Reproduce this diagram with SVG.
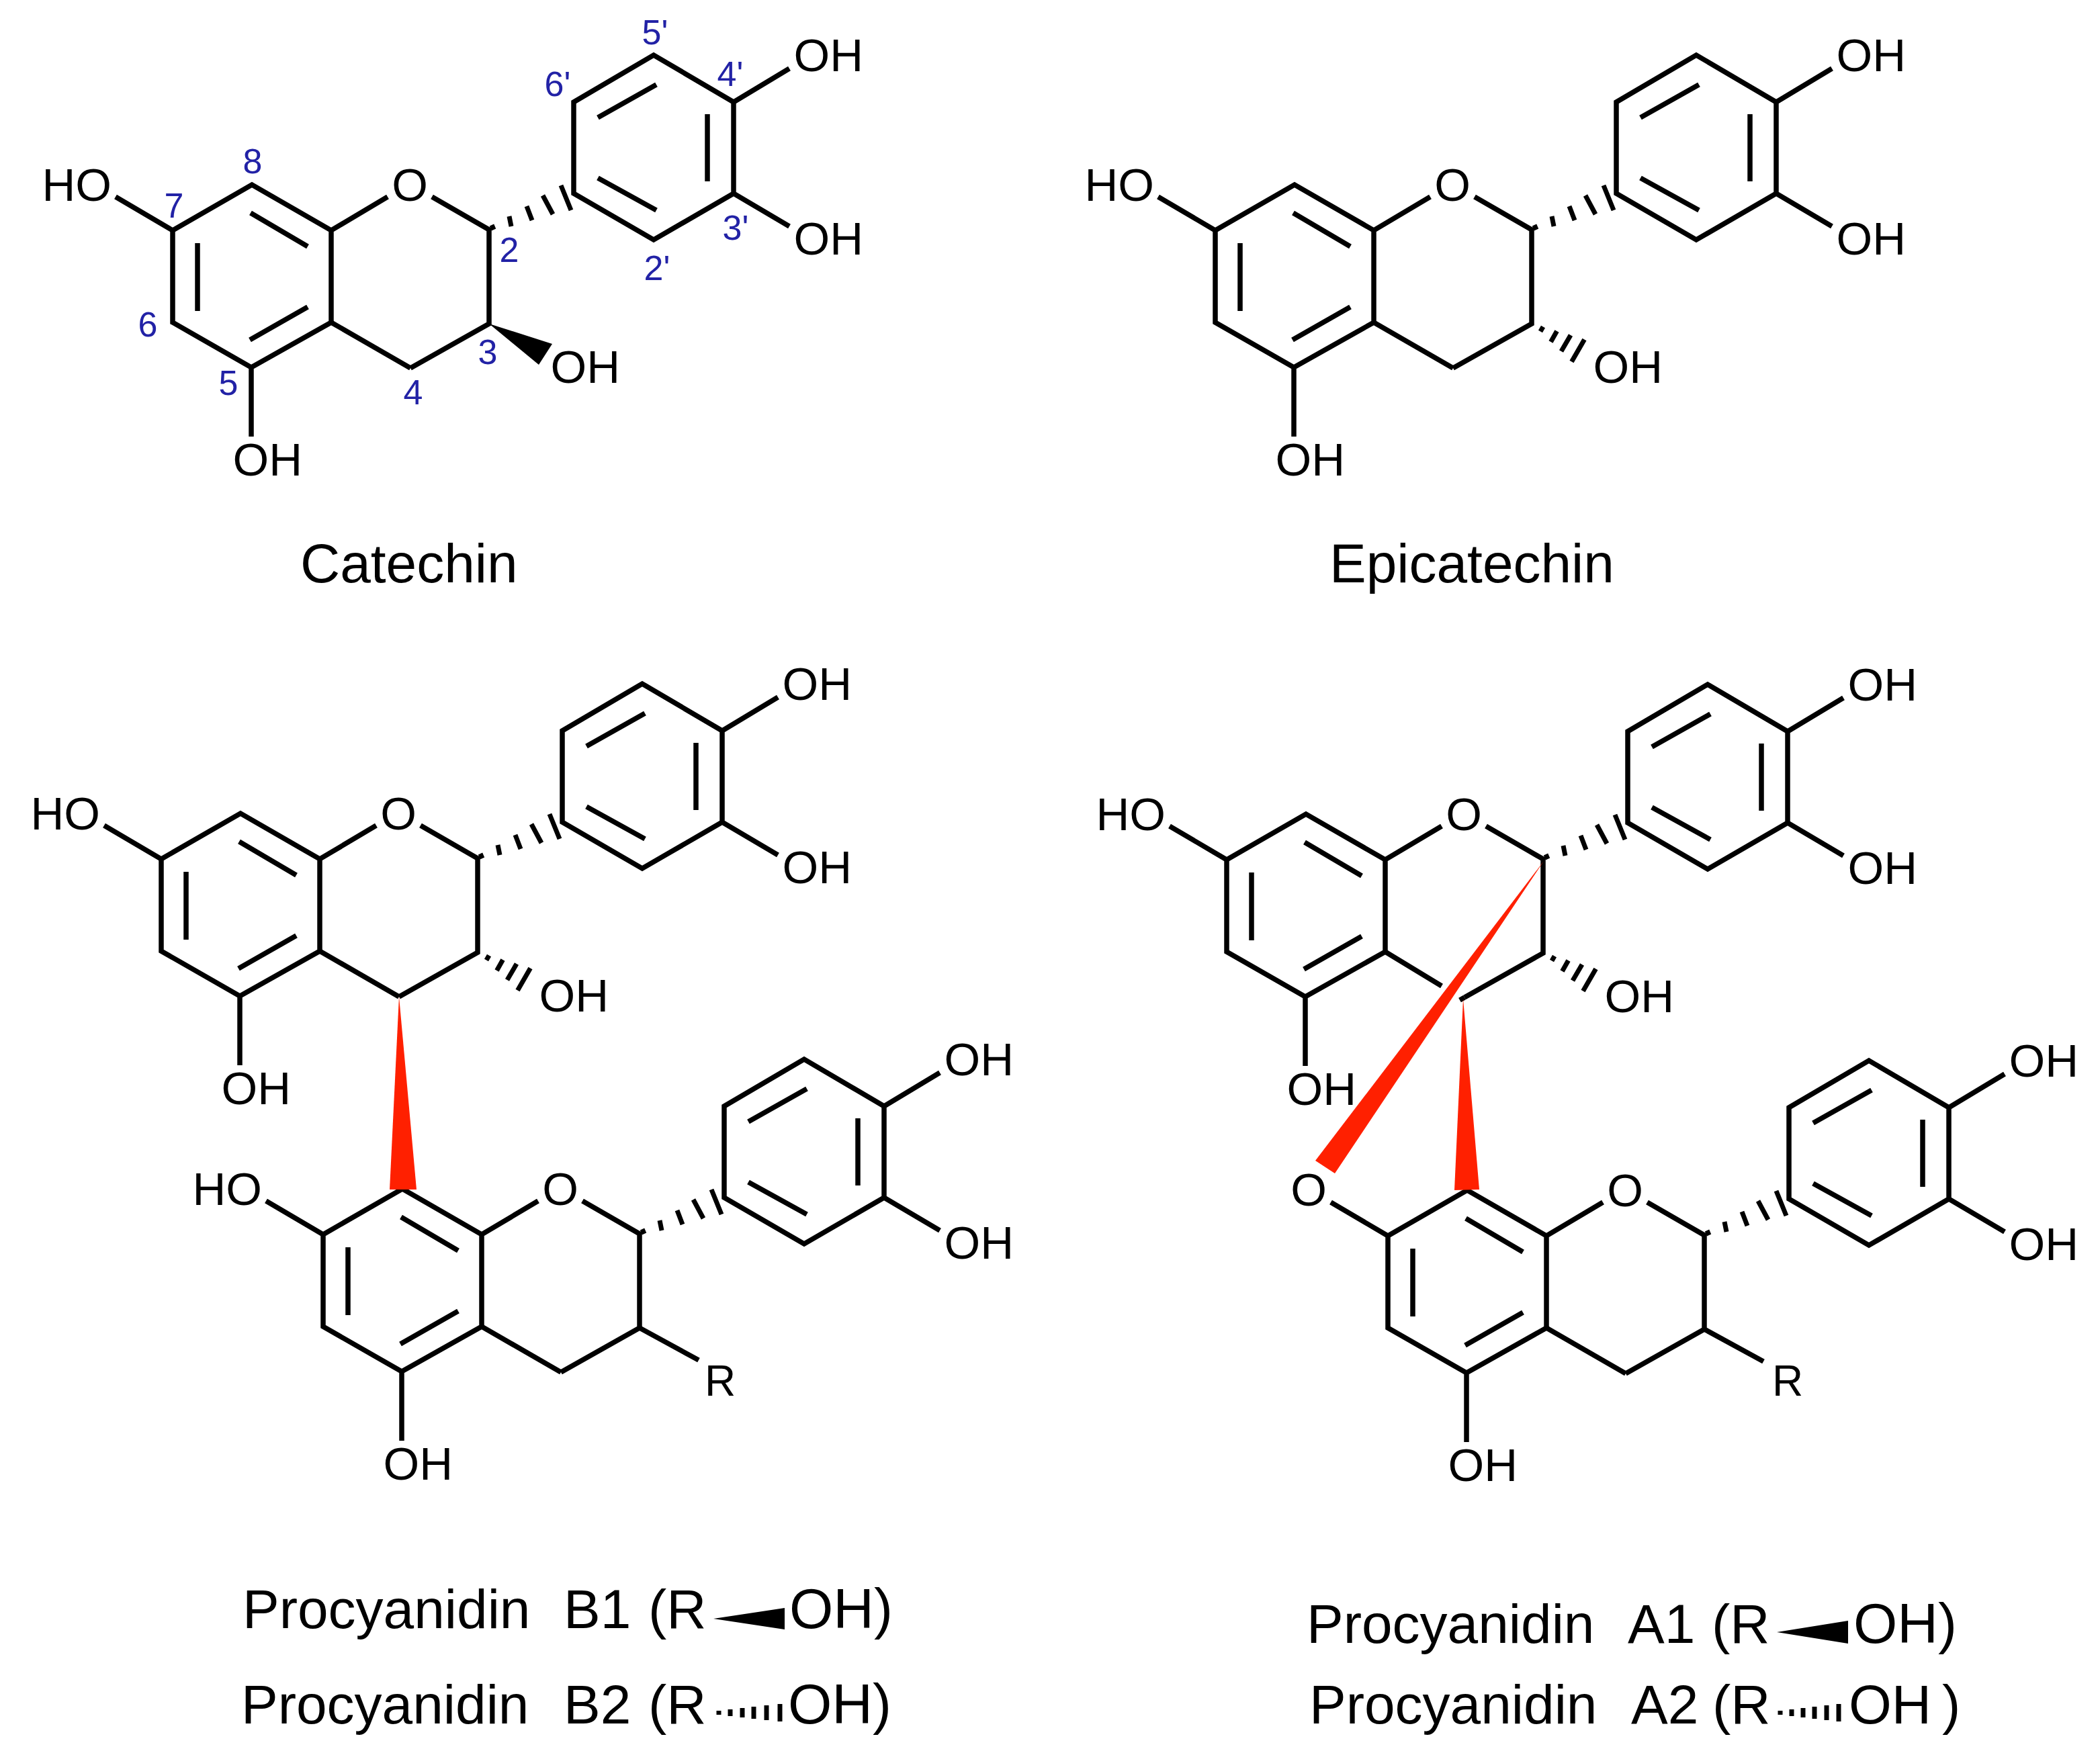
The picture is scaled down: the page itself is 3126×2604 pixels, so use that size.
<svg xmlns="http://www.w3.org/2000/svg" width="3126" height="2604" viewBox="0 0 3126 2604">
<style>
text{font-family:"Liberation Sans",Arial,sans-serif;fill:#000}
.a{font-size:69px}
.m{text-anchor:middle}
.r{font-size:64px}
.n{font-size:52px;fill:#2222a6;text-anchor:middle}
.t{font-size:82px}
.u{font-size:84px}
.b{fill:none;stroke:#000;stroke-width:7.5;stroke-linejoin:miter;stroke-linecap:butt}
.h{fill:none;stroke:#000;stroke-width:7}
.k{fill:#000;stroke:none}
.w{fill:#ff2000;stroke:none}
</style>
<defs>
<path id="scaffold" class="b" d="M257 343L375 275L493 343L577 293M643 293L728 342V482L611 548M493 343V480L374 547L257 480V343M373 317L458 367M294 362V463M372 506L458 457M854 288L973 357L1092 288V152L973 82L854 152ZM890 175L977 126M1053 170V270M890 265L977 313M1092 152L1175 102M1092 288L1175 337M257 343L172 293M374 547V650"/>
<path id="c4bond" class="b" d="M493 480L611 548"/>
<path id="hash2" class="h" d="M732 335L735 342M758 322L761 337M784 307L792 328M808 291L823 319M835 276L850 313"/>
<path id="hash3" class="h" d="M741 493.500L745 486.500M756.500 509L765.500 493M772 523L786 499M787.500 538.500L806.500 505.500"/>
<path id="rbond" class="b" d="M728 482L816 530"/>
</defs>

<g id="connectors">
<g id="catechin-bonds"><use href="#scaffold"/><use href="#c4bond"/><use href="#hash2"/><polygon class="k" points="728,482 822,512 802,543"/></g>
<g id="epicatechin-bonds" transform="translate(1552,0)"><use href="#scaffold"/><use href="#c4bond"/><use href="#hash2"/><use href="#hash3"/></g>
<g id="b-upper-bonds" transform="translate(-17,936)"><use href="#scaffold"/><use href="#c4bond"/><use href="#hash2"/><use href="#hash3"/></g>
<g id="b-lower-bonds" transform="translate(224,1495)"><use href="#scaffold"/><use href="#c4bond"/><use href="#hash2"/><use href="#rbond"/></g>
<g id="a-upper-bonds" transform="translate(1569,937)"><use href="#scaffold"/><path class="b" d="M493 480L577 531M611 548L604 552"/><use href="#hash2"/><use href="#hash3"/></g>
<g id="a-lower-bonds" transform="translate(1809,1497)"><use href="#scaffold"/><use href="#c4bond"/><use href="#hash2"/><use href="#rbond"/></g>
<polygon id="b-link" class="w" points="594,1484 580,1771 620,1771"/>
<polygon id="a-link-1" class="w" points="2298,1282 1958,1728 1987,1747"/>
<polygon id="a-link-2" class="w" points="2178,1487 2165,1772 2202,1771"/>
</g>

<g id="catechin">
<text class="a" x="1181.500" y="106">OH</text><text class="a" x="1181.500" y="379">OH</text><text class="a m" x="610" y="299">O</text><text class="a" x="62.500" y="299">HO</text><text class="a" x="819.500" y="570">OH</text><text class="a" x="346.500" y="708">OH</text>
<text class="n" x="376" y="258">8</text><text class="n" x="259" y="324">7</text><text class="n" x="220" y="501">6</text><text class="n" x="340" y="588">5</text><text class="n" x="615" y="602">4</text><text class="n" x="726" y="542">3</text><text class="n" x="758" y="390">2</text><text class="n" x="978" y="417">2'</text><text class="n" x="1095" y="357">3'</text><text class="n" x="1087" y="128">4'</text><text class="n" x="975" y="66">5'</text><text class="n" x="830" y="143">6'</text>
<text class="t" x="447" y="867">Catechin</text>
</g>

<g id="epicatechin">
<g transform="translate(1552,0)"><text class="a" x="1181.500" y="106">OH</text><text class="a" x="1181.500" y="379">OH</text><text class="a m" x="610" y="299">O</text><text class="a" x="62.500" y="299">HO</text><text class="a" x="819.500" y="570">OH</text><text class="a" x="346.500" y="708">OH</text></g>
<text class="t" x="1979" y="867">Epicatechin</text>
</g>

<g id="procyanidin-b">
<g transform="translate(-17,936)"><text class="a" x="1181.500" y="106">OH</text><text class="a" x="1181.500" y="379">OH</text><text class="a m" x="610" y="299">O</text><text class="a" x="62.500" y="299">HO</text><text class="a" x="819.500" y="570">OH</text><text class="a" x="346.500" y="708">OH</text></g>
<g transform="translate(224,1495)"><text class="a" x="1181.500" y="106">OH</text><text class="a" x="1181.500" y="379">OH</text><text class="a m" x="610" y="299">O</text><text class="a" x="62.500" y="299">HO</text><text class="r" x="825" y="583">R</text><text class="a" x="346.500" y="708">OH</text></g>
</g>

<g id="procyanidin-a">
<g transform="translate(1569,937)"><text class="a" x="1181.500" y="106">OH</text><text class="a" x="1181.500" y="379">OH</text><text class="a m" x="610" y="299">O</text><text class="a" x="62.500" y="299">HO</text><text class="a" x="819.500" y="570">OH</text><text class="a" x="346.500" y="708">OH</text></g>
<g transform="translate(1809,1497)"><text class="a" x="1181.500" y="106">OH</text><text class="a" x="1181.500" y="379">OH</text><text class="a m" x="610" y="299">O</text><text class="a m" x="139" y="298">O</text><text class="r" x="829" y="581">R</text><text class="a" x="346.500" y="708">OH</text></g>
</g>

<g id="legend-b">
<text class="t" y="2424"><tspan x="361">Procyanidin</tspan> <tspan x="839">B1</tspan> <tspan x="965">(R</tspan></text>
<polygon class="k" points="1062,2410 1168,2394 1168,2426"/>
<text class="u" x="1175" y="2424">OH)</text>
<text class="t" y="2566"><tspan x="359">Procyanidin</tspan> <tspan x="839">B2</tspan> <tspan x="965">(R</tspan></text>
<path class="h" d="M1070 2547V2553M1087 2545V2555M1105 2543V2557M1122 2541V2559M1141 2539V2561M1161 2537V2563"/>
<text class="u" x="1173" y="2566">OH)</text>
</g>

<g id="legend-a">
<text class="t" y="2446"><tspan x="1945">Procyanidin</tspan> <tspan x="2423">A1</tspan> <tspan x="2548">(R</tspan></text>
<polygon class="k" points="2645,2430 2751,2413 2751,2447"/>
<text class="u" x="2759" y="2446">OH)</text>
<text class="t" y="2566"><tspan x="1949">Procyanidin</tspan> <tspan x="2428">A2</tspan> <tspan x="2549">(R</tspan></text>
<path class="h" d="M2650 2547V2553M2667 2545V2555M2684 2543V2557M2701 2541V2559M2719 2539V2561M2737 2537V2563"/>
<text class="t" x="2752" y="2566">OH</text><text class="t" x="2891" y="2566">)</text>
</g>
</svg>
